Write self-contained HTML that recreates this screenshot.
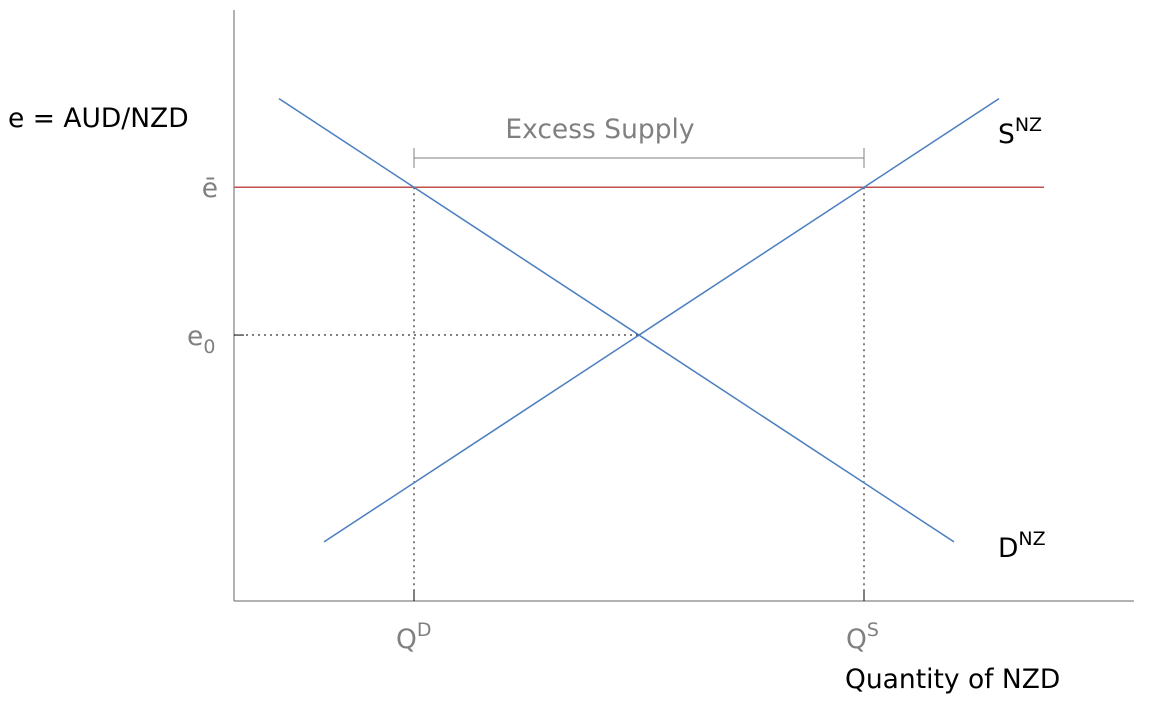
<!DOCTYPE html>
<html><head><meta charset="utf-8"><style>
body{margin:0;background:#fff;}
svg{display:block;font-family:"DejaVu Sans","Liberation Sans",sans-serif;}
</style></head><body>
<svg id="chart" width="1151" height="706" viewBox="0 0 1151 706">
<g id="marks"></g>
<text x="8" y="127" font-size="26.5" fill="#000">e = AUD/NZD</text>
<text x="845" y="688" font-size="26.5" fill="#000">Quantity of NZD</text>
<text x="600" y="138" font-size="26.5" fill="#808080" text-anchor="middle">Excess Supply</text>
<text x="998" y="143" font-size="26.5" fill="#000">S<tspan font-size="19" dy="-12">NZ</tspan></text>
<text x="998" y="557" font-size="26.5" fill="#000">D<tspan font-size="19" dy="-12">NZ</tspan></text>
<text x="218" y="197" font-size="26.5" fill="#808080" text-anchor="end">ē</text>
<text x="187" y="345" font-size="26.5" fill="#808080">e<tspan font-size="19" dy="8">0</tspan></text>
<text x="396" y="648" font-size="26.5" fill="#808080">Q<tspan font-size="19" dy="-12">D</tspan></text>
<text x="846" y="648" font-size="26.5" fill="#808080">Q<tspan font-size="19" dy="-12">S</tspan></text>
</svg>
<script>
const demandX=[0.5,8.0];
const demandY=[8.5,1.0];
const supplyX=[1.0,8.5];
const supplyY=[1.0,8.5];
const eBar=7.0;
const e0=4.5;
const qD=2.0;
const qS=7.0;
const X=v=>234+v*90;
const Y=v=>601-v*59.1;
const NS='http://www.w3.org/2000/svg';
const g=document.getElementById('marks');
function line(x1,y1,x2,y2,stroke,w,dash,name){
  const l=document.createElementNS(NS,'line');
  l.setAttribute('x1',x1);l.setAttribute('y1',y1);l.setAttribute('x2',x2);l.setAttribute('y2',y2);
  l.setAttribute('stroke',stroke);l.setAttribute('stroke-width',w);
  if(dash)l.setAttribute('stroke-dasharray',dash);
  
  
  g.appendChild(l);
}
line(234,10,234,601,'#666',1,null,'y-axis');
line(234,601,1134,601,'#666',1,null,'x-axis');
line(X(0),Y(eBar),X(9),Y(eBar),'#c0504d',1.5,null,'ebar-line');
line(X(0),Y(e0),X(4.5),Y(e0),'#000',1,'2,4','e0-guide');
line(X(qD),Y(eBar),X(qD),601,'#000',1,'2,4','qd-guide');
line(X(qS),Y(eBar),X(qS),601,'#000',1,'2,4','qs-guide');
line(X(0),Y(e0),X(0)+10,Y(e0),'#000',1,null,'e0-tick');
line(X(qD),601,X(qD),591,'#000',1,null,'qd-tick');
line(X(qS),601,X(qS),591,'#000',1,null,'qs-tick');
line(X(demandX[0]),Y(demandY[0]),X(demandX[1]),Y(demandY[1]),'#4a7ebf',1.5,null,'demand-curve');
line(X(supplyX[0]),Y(supplyY[0]),X(supplyX[1]),Y(supplyY[1]),'#4a7ebf',1.5,null,'supply-curve');
line(X(qD),158,X(qS),158,'#808080',1,null,'excess-bracket');
line(X(qD),148,X(qD),168,'#808080',1,null,'bracket-left');
line(X(qS),148,X(qS),168,'#808080',1,null,'bracket-right');
</script>
</body></html>
